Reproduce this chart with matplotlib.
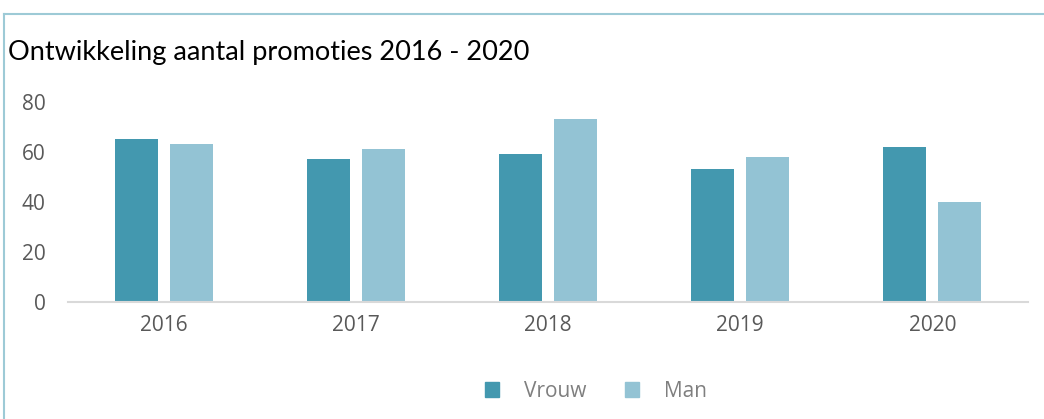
import matplotlib.pyplot as plt
import numpy as np
from matplotlib.lines import Line2D
from matplotlib.patches import Patch

years = ['2016', '2017', '2018', '2019', '2020']
vrouw = [65, 57, 59, 53, 62]
man = [63, 61, 73, 58, 40]

c_vrouw = '#4398AF'
c_man = '#93C3D4'
border = '#9DCAD6'

fig = plt.figure(figsize=(10.44, 4.19), dpi=100)
ax = fig.add_axes([0.065, 0.279, 0.92, 0.478])

x = np.arange(len(years))
w = 0.224
ax.bar(x - 0.143, vrouw, w, color=c_vrouw, label='Vrouw')
ax.bar(x + 0.143, man, w, color=c_man, label='Man')

ax.set_xlim(-0.5, len(years) - 0.5)
ax.set_ylim(0, 80)
ax.set_yticks([0, 20, 40, 60, 80])
ax.set_xticks(x)
ax.set_xticklabels(years)
for s in ['top', 'right', 'left']:
    ax.spines[s].set_visible(False)
ax.spines['bottom'].set_color('#D9D9D9')
ax.spines['bottom'].set_linewidth(1.5)
ax.tick_params(length=0, colors='#595959')
ax.tick_params(axis='x', pad=9)
ax.tick_params(axis='y', pad=16)
for lab in ax.get_xticklabels() + ax.get_yticklabels():
    lab.set_fontfamily('Open Sans')
    lab.set_fontsize(15)

# title and frame
fig.text(0.008, 0.875, 'Ontwikkeling aantal promoties 2016 - 2020', fontsize=19.5,
         family='Lato', color='black', va='center', ha='left')
fig.add_artist(Line2D([0.004, 0.004], [0, 0.967], color=border, lw=1.5))
fig.add_artist(Line2D([0.004, 1], [0.967, 0.967], color=border, lw=1.5))

handles = [Patch(color=c_vrouw), Patch(color=c_man)]
leg = fig.legend(handles, ['Vrouw', 'Man'], loc='center', bbox_to_anchor=(0.571, 0.066),
                 ncol=2, frameon=False, handlelength=0.67, handleheight=0.67,
                 handletextpad=1.2, columnspacing=1.83,
                 prop={'family': 'Open Sans', 'size': 15})
for t in leg.get_texts():
    t.set_color('#7F7F7F')

fig.savefig('out.png', dpi=100)
